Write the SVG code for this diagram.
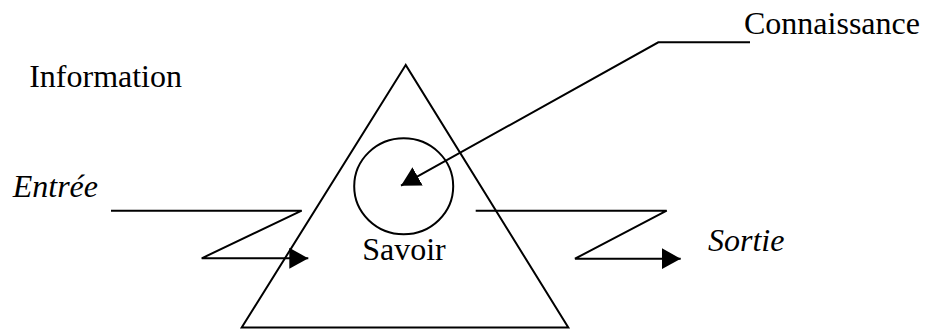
<svg xmlns="http://www.w3.org/2000/svg" width="931" height="329" viewBox="0 0 931 329">
<defs>
<style>
.ln{fill:none;stroke:#000;stroke-width:2}
text{font-family:'Liberation Serif','Times New Roman','DejaVu Serif',serif;font-size:32px;fill:#000}
.i{font-style:italic}
</style>
<marker id="ah" markerUnits="userSpaceOnUse" markerWidth="19" markerHeight="21" viewBox="0 0 19 21" refX="19" refY="10.5" orient="auto"><path d="M0,0 L19,10.5 L0,21 Z" fill="#000"/></marker>
</defs>
<rect width="931" height="329" fill="#fff"/>
<g id="savoir">
<polygon class="ln" points="405.7,65 241.7,327.5 568.3,327.5"/>
<ellipse class="ln" cx="403.7" cy="186.3" rx="49.5" ry="48"/>
<text x="404" y="260" text-anchor="middle">Savoir</text>
</g>
<g id="information"><text x="182" y="87" text-anchor="end">Information</text></g>
<g id="entree"><text class="i" x="98" y="197" text-anchor="end">Entrée</text></g>
<g id="sortie"><text class="i" x="708" y="251">Sortie</text></g>
<g id="connaissance"><text x="744" y="34">Connaissance</text></g>
<g id="connectors">
<polyline class="ln" points="111,210.7 301.7,210.7 201.7,258.3 308.3,258.3" marker-end="url(#ah)"/>
<polyline class="ln" points="475.7,210.7 666.7,210.7 575,258.7 680.7,258.7" marker-end="url(#ah)"/>
<polyline class="ln" points="750,42.3 658.3,42.3 401,185.7" marker-end="url(#ah)"/>
</g>
</svg>
